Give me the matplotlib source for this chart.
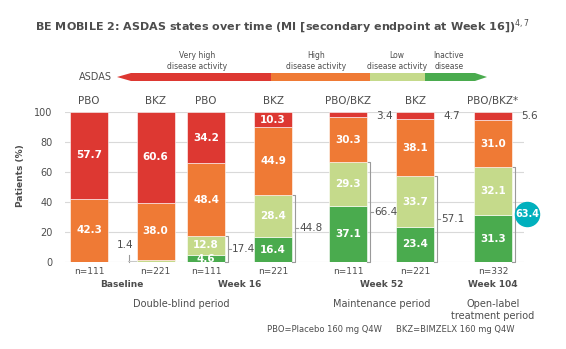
import matplotlib.pyplot as plt
from matplotlib.patches import Polygon
import numpy as np

# bar groups (left to right)
groups = ['PBO', 'BKZ', 'PBO', 'BKZ', 'PBO/BKZ', 'BKZ', 'PBO/BKZ*']
n_labels = ['n=111', 'n=221', 'n=111', 'n=221', 'n=111', 'n=221', 'n=332']
timepoints = ['Baseline', 'Week 16', 'Week 52', 'Week 104']
periods = ['Double-blind period', 'Maintenance period', 'Open-label\ntreatment period']

# ASDAS states, % of patients
inactive = [0, 0, 4.6, 16.4, 37.1, 23.4, 31.3]
low = [0, 1.4, 12.8, 28.4, 29.3, 33.7, 32.1]
high = [42.3, 38.0, 48.4, 44.9, 30.3, 38.1, 31.0]
very_high = [57.7, 60.6, 34.2, 10.3, 3.4, 4.7, 5.6]

states = ['Very high\ndisease activity', 'High\ndisease activity',
          'Low\ndisease activity', 'Inactive\ndisease']

c_red = '#dd3832'
c_orange = '#ef7a35'
c_light = '#c5da8b'
c_green = '#4aab4e'
c_text = '#4d4d4d'
c_teal = '#00b0bd'

# x positions in pixel-like units
pos = np.array([89, 155.5, 206, 273, 348, 415, 493])
w = 38

fig = plt.figure(figsize=(5.66, 3.49), dpi=100)
ax = fig.add_axes([65 / 566, 1 - 262 / 349, 459 / 566, 150 / 349])
ax.set_xlim(65, 524)
ax.set_ylim(0, 100)

# (values, colour, smallest value printed inside)
segs = [(inactive, c_green, 4), (low, c_light, 4), (high, c_orange, 4), (very_high, c_red, 6)]
bottom = np.zeros(len(pos))
for vals, col, min_in in segs:
    vals = np.array(vals, dtype=float)
    ax.bar(pos, vals, w, bottom=bottom, color=col, edgecolor='white', linewidth=0.4, zorder=3)
    for x, b, v in zip(pos, bottom, vals):
        if v >= min_in:
            ax.text(x, b + v / 2, f'{v:.1f}', ha='center', va='center', color='white',
                    fontsize=7.5, fontweight='bold', zorder=4)
    bottom += vals

# small very-high values printed outside
for x, v in zip(pos, very_high):
    if v < 6:
        ax.text(x + 28, 97.5, f'{v:.1f}', ha='left', va='center', color=c_text, fontsize=7.5)

# brackets: low + inactive
combined = np.round(np.array(inactive) + np.array(low), 1)
gcol = '#9a9a9a'
for i, (x, v) in enumerate(zip(pos, combined)):
    if v == 0:
        continue
    if v < 4:
        bx = x - w / 2 - 8
        ax.plot([bx, bx], [0, 5], color=gcol, lw=0.8, zorder=2, clip_on=False)
        ax.plot([bx, x - w / 2], [0.3, 0.3], color='#c8c8c8', lw=1.5, zorder=2)
        ax.text(bx - 3, 11, f'{v:.1f}', ha='center', va='center', color=c_text, fontsize=7.5)
        continue
    bx = x + w / 2 + 3
    ax.plot([x + w / 2, bx, bx, x + w / 2], [v, v, 0, 0], color=gcol, lw=0.8, zorder=2,
            clip_on=False)
    if i == len(pos) - 1:
        ax.scatter([bx + 12], [v / 2], s=300, color=c_teal, zorder=5, clip_on=False)
        ax.text(bx + 12, v / 2, f'{v:.1f}', ha='center', va='center', color='white',
                fontsize=7, fontweight='bold', zorder=6, clip_on=False)
    else:
        ax.plot([bx, bx + 3], [v / 2, v / 2], color=gcol, lw=0.8, clip_on=False)
        ax.text(bx + 4, v / 2, f'{v:.1f}', ha='left', va='center', color=c_text, fontsize=7.5)

ax.set_yticks(range(0, 101, 20))
ax.set_xticks([])
ax.yaxis.grid(True, color='#d9d9d9', lw=0.8, zorder=0)
ax.tick_params(axis='y', length=0, labelsize=7, labelcolor=c_text, pad=9)
for s in ax.spines.values():
    s.set_visible(False)

# labels above / below bars
for x, g, n in zip(pos, groups, n_labels):
    ax.text(x, 107.3, g, ha='center', va='center', color=c_text, fontsize=7.5, clip_on=False)
    ax.text(x, -6, n, ha='center', va='center', color=c_text, fontsize=6.5, clip_on=False)

tp_x = [(pos[0] + pos[1]) / 2, (pos[2] + pos[3]) / 2, (pos[4] + pos[5]) / 2, pos[6]]
for x, t in zip(tp_x, timepoints):
    ax.text(x, -14.7, t, ha='center', va='center', color=c_text, fontsize=6.5,
            fontweight='bold', clip_on=False)
pr_x = [(pos[0] + pos[3]) / 2, (pos[4] + pos[5]) / 2, pos[6]]
for x, p in zip(pr_x, periods):
    ax.text(x, -24.5, p, ha='center', va='top', color=c_text, fontsize=7,
            linespacing=1.3, clip_on=False)

# overlay in pixel coordinates for title, ASDAS scale and footnote
ov = fig.add_axes([0, 0, 1, 1], facecolor='none')
ov.set_xlim(0, 566)
ov.set_ylim(349, 0)
ov.axis('off')

ov.text(282, 27, 'BE MOBILE 2: ASDAS states over time (MI [secondary endpoint at Week 16])$^{4,7}$',
        ha='center', va='center', color=c_text, fontsize=8, fontweight='bold')

ov.text(20, 176, 'Patients (%)', rotation=90, ha='center', va='center', color=c_text,
        fontsize=6.5, fontweight='bold')

ov.text(112, 77, 'ASDAS', ha='right', va='center', color=c_text, fontsize=7)
yt, yb, ym = 73, 81, 77
ov.add_patch(Polygon([(117, ym), (131, yt), (271, yt), (271, yb), (131, yb)], color=c_red, lw=0))
ov.add_patch(Polygon([(271, yt), (370, yt), (370, yb), (271, yb)], color=c_orange, lw=0))
ov.add_patch(Polygon([(370, yt), (425, yt), (425, yb), (370, yb)], color=c_light, lw=0))
ov.add_patch(Polygon([(425, yt), (475, yt), (487, ym), (475, yb), (425, yb)], color=c_green, lw=0))
for x, s in zip([197, 316, 397, 449], states):
    ov.text(x, 61, s, ha='center', va='center', color=c_text, fontsize=5.5, linespacing=1.25)

ov.text(382, 329, 'PBO=Placebo 160 mg Q4W', ha='right', va='center', color=c_text, fontsize=6)
ov.text(396, 329, 'BKZ=BIMZELX 160 mg Q4W', ha='left', va='center', color=c_text, fontsize=6)

plt.savefig('out.png', dpi=100)
plt.close()
